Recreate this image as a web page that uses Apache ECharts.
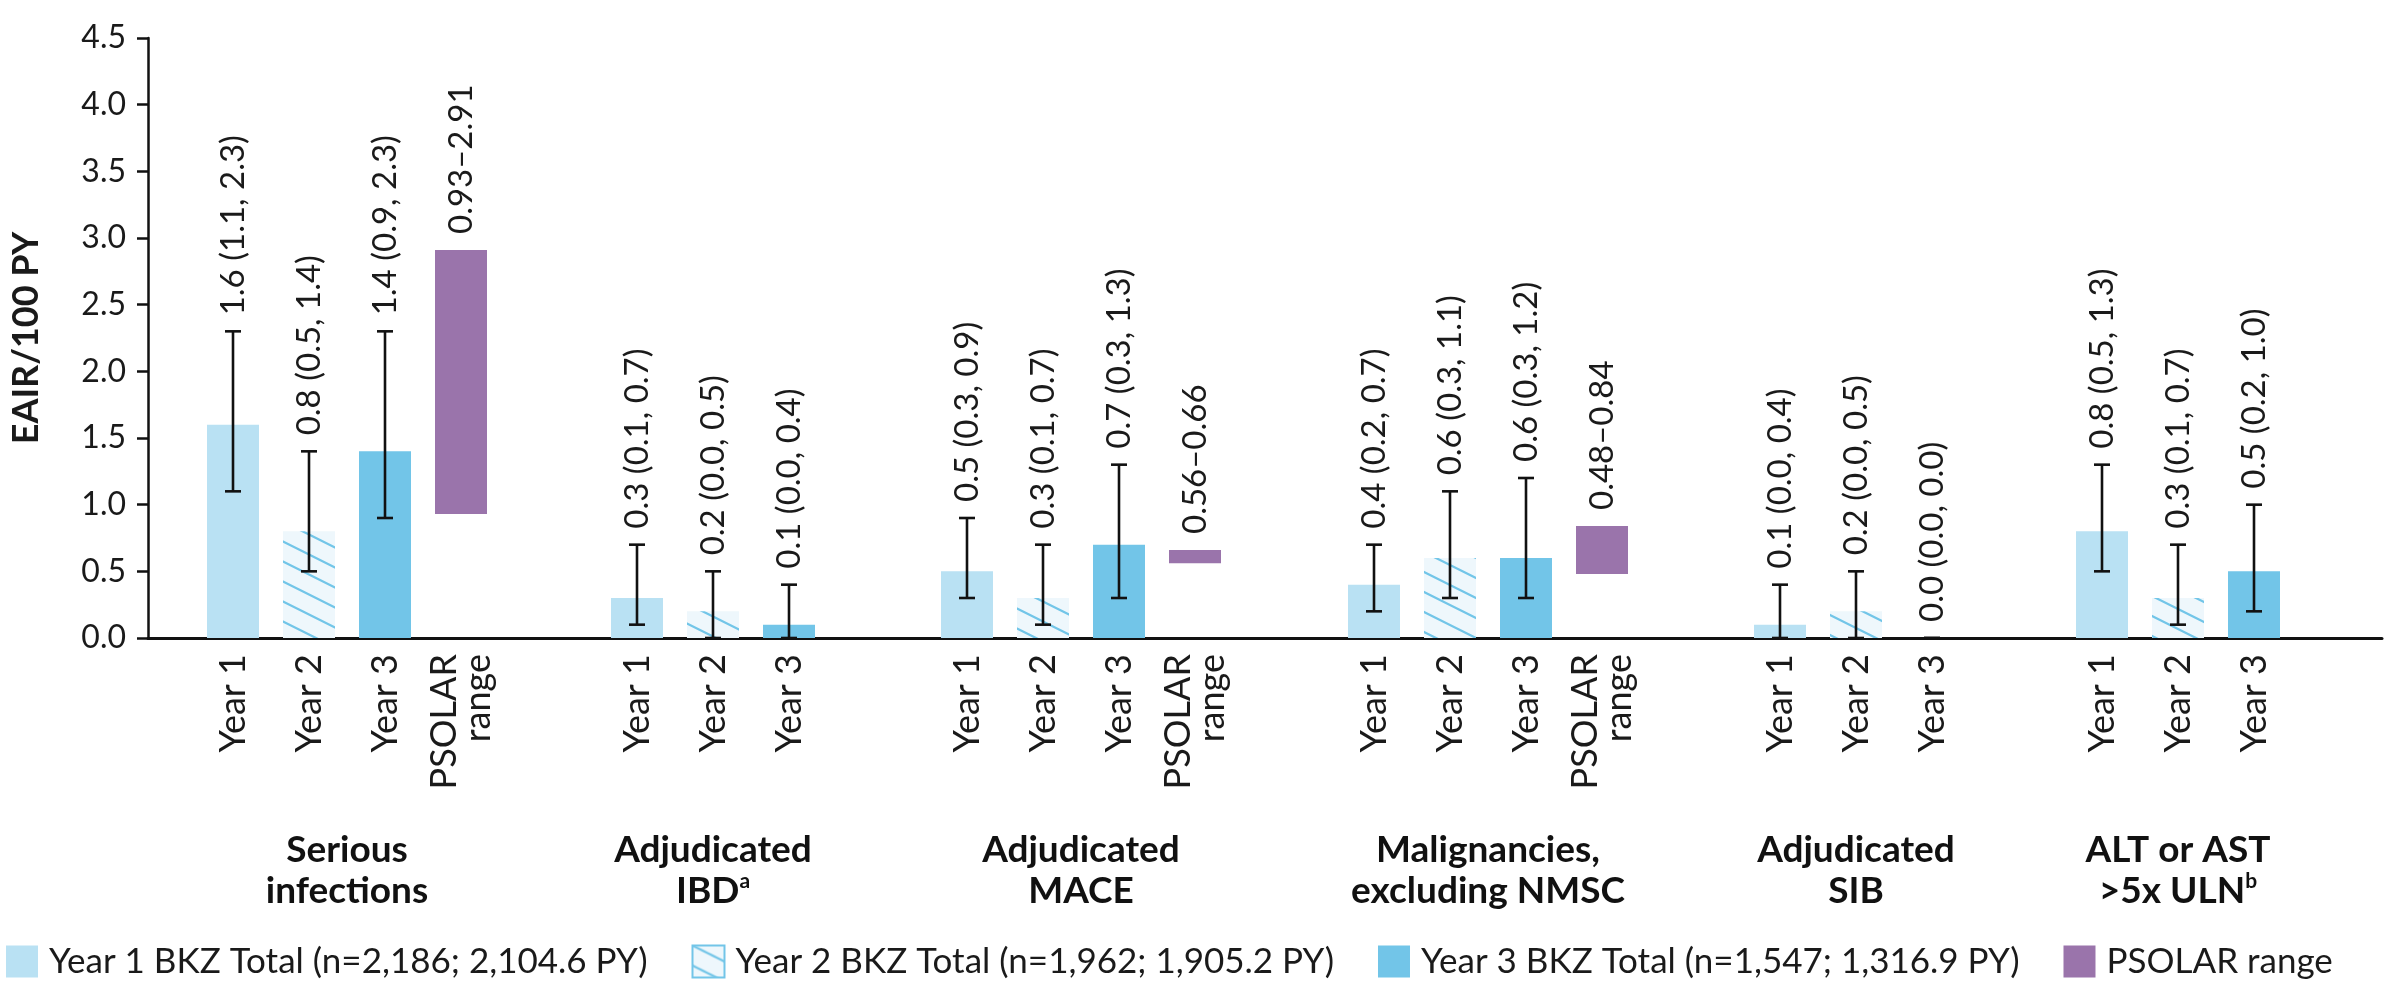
<!DOCTYPE html>
<html>
<head>
<meta charset="utf-8">
<script src="https://cdn.jsdelivr.net/npm/echarts@6/dist/echarts.min.js"></script>
<style>
html,body{margin:0;padding:0;background:#fff;}
#chart{width:2406px;height:984px;}
</style>
</head>
<body>
<div id="chart"></div>
<script>
// ---------- data ----------
const groupNames = ['Serious\ninfections', 'Adjudicated\nIBD{sup|a}', 'Adjudicated\nMACE', 'Malignancies,\nexcluding NMSC', 'Adjudicated\nSIB', 'ALT or AST\n>5x ULN{sup|b}'];
const yearCategories = ['Year 1', 'Year 2', 'Year 3'];
const psolarCategory = 'PSOLAR\nrange';
const year1Rate = [1.6, 0.3, 0.5, 0.4, 0.1, 0.8];
const year1Low  = [1.1, 0.1, 0.3, 0.2, 0.0, 0.5];
const year1High = [2.3, 0.7, 0.9, 0.7, 0.4, 1.3];
const year2Rate = [0.8, 0.2, 0.3, 0.6, 0.2, 0.3];
const year2Low  = [0.5, 0.0, 0.1, 0.3, 0.0, 0.1];
const year2High = [1.4, 0.5, 0.7, 1.1, 0.5, 0.7];
const year3Rate = [1.4, 0.1, 0.7, 0.6, 0.0, 0.5];
const year3Low  = [0.9, 0.0, 0.3, 0.3, 0.0, 0.2];
const year3High = [2.3, 0.4, 1.3, 1.2, 0.0, 1.0];
const psolarLow  = [0.93, null, 0.56, 0.48, null, null];
const psolarHigh = [2.91, null, 0.66, 0.84, null, null];
const seriesNames = [
  'Year 1 BKZ Total (n=2,186; 2,104.6 PY)',
  'Year 2 BKZ Total (n=1,962; 1,905.2 PY)',
  'Year 3 BKZ Total (n=1,547; 1,316.9 PY)',
  'PSOLAR range'
];
const yMin = 0, yMax = 4.5, yInterval = 0.5;
const yAxisTitle = 'EAIR/100 PY';

// ---------- layout / style ----------
const FONT = 'Lato';
const TEXT = '#1a1a1a';
const C1 = '#b9e1f3', C3 = '#72c5e8', CP = '#9a74ab', HATCH_BG = '#eef7fc', HATCH_LINE = '#72c5e8';
const TOP = 38, HEIGHT = 600;
const GROUP_LEFT = [195, 599, 929, 1336, 1742, 2064];
const SLOT = 76, BARW = 52;

function hatch() {
  const c = document.createElement('canvas');
  c.width = 40; c.height = 20;
  const g = c.getContext('2d');
  g.fillStyle = HATCH_BG; g.fillRect(0, 0, 40, 20);
  g.strokeStyle = HATCH_LINE; g.lineWidth = 2.2;
  [-20, 0, 20].forEach(function (o) {
    g.beginPath(); g.moveTo(-20, -10 + o); g.lineTo(60, 30 + o); g.stroke();
  });
  return c;
}
const hatchPattern = { image: hatch(), repeat: 'repeat' };

const chart = echarts.init(document.getElementById('chart'), null, { renderer: 'canvas' });

const grids = [{ left: 147, top: TOP, width: 2235, height: HEIGHT }];
const xAxes = [{
  gridIndex: 0, type: 'value', min: 0, max: 1,
  axisLine: { show: true, onZero: false, lineStyle: { color: '#111', width: 3 } },
  axisTick: { show: false }, axisLabel: { show: false }, splitLine: { show: false }
}];
const yAxes = [{
  gridIndex: 0, type: 'value', min: yMin, max: yMax, interval: yInterval,
  name: yAxisTitle, nameLocation: 'middle', nameGap: 104,
  nameTextStyle: { fontFamily: FONT, fontWeight: 'bold', fontSize: 36, color: TEXT },
  axisLine: { show: true, lineStyle: { color: '#111', width: 2.5 } },
  axisTick: { show: true, length: 11, lineStyle: { color: '#111', width: 2.5 } },
  axisLabel: { fontFamily: FONT, fontSize: 32, color: TEXT, margin: 22, formatter: function (v) { return v.toFixed(1); } },
  splitLine: { show: false }
}];
const series = [];

function fmt(v, lo, hi) { return v.toFixed(1) + ' (' + lo.toFixed(1) + ', ' + hi.toFixed(1) + ')'; }

groupNames.forEach(function (gname, i) {
  const hasP = psolarLow[i] != null;
  const cats = yearCategories.slice();
  if (hasP) cats.push({ value: psolarCategory, textStyle: { padding: [34, 0, 0, 0] } });
  const gi = i + 1;
  grids.push({ left: GROUP_LEFT[i], top: TOP, width: cats.length * SLOT, height: HEIGHT });
  xAxes.push({
    gridIndex: gi, type: 'category', data: cats,
    axisLine: { show: false }, axisTick: { show: false },
    axisLabel: { rotate: 90, fontFamily: FONT, fontSize: 36, lineHeight: 34, color: TEXT, margin: 16, interval: 0 },
    name: gname, nameLocation: 'middle', nameGap: 192,
    nameTextStyle: {
      fontFamily: FONT, fontWeight: 'bold', fontSize: 37, lineHeight: 41, color: '#111',
      rich: { sup: { fontFamily: FONT, fontWeight: 'bold', fontSize: 21, lineHeight: 21, verticalAlign: 'top', color: '#111' } }
    }
  });
  yAxes.push({ gridIndex: gi, type: 'value', min: yMin, max: yMax, interval: yInterval, show: false });

  const n = cats.length;
  function only(idx, v) { const a = new Array(n).fill(null); a[idx] = v; return a; }
  series.push({ type: 'bar', name: seriesNames[0], xAxisIndex: gi, yAxisIndex: gi, barWidth: BARW, barGap: '-100%', data: only(0, year1Rate[i]), itemStyle: { color: C1 } });
  series.push({ type: 'bar', name: seriesNames[1], xAxisIndex: gi, yAxisIndex: gi, barWidth: BARW, barGap: '-100%', data: only(1, year2Rate[i]), itemStyle: { color: hatchPattern } });
  series.push({ type: 'bar', name: seriesNames[2], xAxisIndex: gi, yAxisIndex: gi, barWidth: BARW, barGap: '-100%', data: only(2, year3Rate[i]), itemStyle: { color: C3 } });
  if (hasP) {
    series.push({
      type: 'custom', name: seriesNames[3], xAxisIndex: gi, yAxisIndex: gi, clip: false, z: 3,
      itemStyle: { color: CP },
      data: [[3, psolarLow[i], psolarHigh[i]]],
      renderItem: function (params, api) {
        const lo = api.coord([api.value(0), api.value(1)]);
        const hi = api.coord([api.value(0), api.value(2)]);
        return { type: 'group', children: [
          { type: 'rect', shape: { x: lo[0] - BARW / 2, y: hi[1], width: BARW, height: lo[1] - hi[1] }, style: { fill: CP } },
          { type: 'text', x: hi[0], y: hi[1] - 16, rotation: Math.PI / 2,
            style: { text: api.value(1).toFixed(2) + '\u2013' + api.value(2).toFixed(2), fontFamily: FONT, fontSize: 33, fill: TEXT, align: 'left', verticalAlign: 'middle' } }
        ] };
      }
    });
  }
  series.push({
    type: 'custom', name: 'err' + i, xAxisIndex: gi, yAxisIndex: gi, clip: false, z: 5,
    data: [[0, year1Rate[i], year1Low[i], year1High[i]], [1, year2Rate[i], year2Low[i], year2High[i]], [2, year3Rate[i], year3Low[i], year3High[i]]],
    renderItem: function (params, api) {
      const c = api.value(0), v = api.value(1), l = api.value(2), h = api.value(3);
      const lo = api.coord([c, l]);
      const hi = api.coord([c, h]);
      const x = lo[0], cw = 8;
      const ls = { stroke: '#111', lineWidth: 2.6 };
      return { type: 'group', children: [
        { type: 'line', shape: { x1: x, y1: lo[1], x2: x, y2: hi[1] }, style: ls },
        { type: 'line', shape: { x1: x - cw, y1: lo[1], x2: x + cw, y2: lo[1] }, style: ls },
        { type: 'line', shape: { x1: x - cw, y1: hi[1], x2: x + cw, y2: hi[1] }, style: ls },
        { type: 'text', x: x, y: hi[1] - 16, rotation: Math.PI / 2,
          style: { text: fmt(v, l, h), fontFamily: FONT, fontSize: 33, fill: TEXT, align: 'left', verticalAlign: 'middle' } }
      ] };
    }
  });
});

chart.setOption({
  animation: false,
  backgroundColor: '#fff',
  grid: grids,
  xAxis: xAxes,
  yAxis: yAxes,
  legend: {
    left: 6, top: 944, width: 2400, itemWidth: 32, itemHeight: 32, itemGap: 44, icon: 'rect', padding: 0,
    textStyle: { fontFamily: FONT, fontSize: 35, color: TEXT, padding: [0, 0, 0, 6] },
    data: [
      { name: seriesNames[0], itemStyle: { color: C1 } },
      { name: seriesNames[1], itemStyle: { color: hatchPattern, borderColor: HATCH_LINE, borderWidth: 2 } },
      { name: seriesNames[2], itemStyle: { color: C3 } },
      { name: seriesNames[3], itemStyle: { color: CP } }
    ],
    selectedMode: false
  },
  series: series
});
</script>
</body>
</html>
